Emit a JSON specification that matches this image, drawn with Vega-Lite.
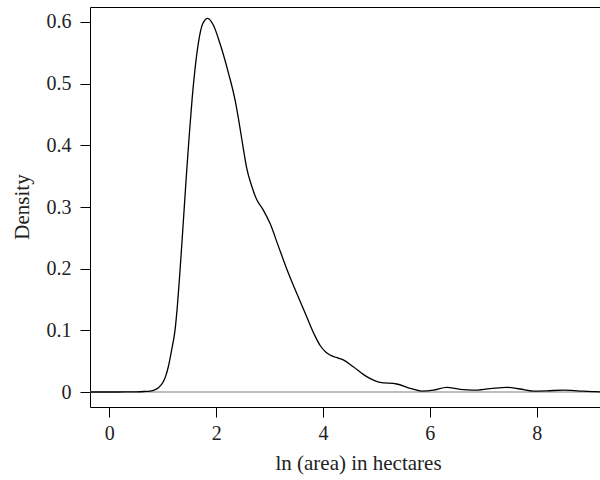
{
  "$schema": "https://vega.github.io/schema/vega-lite/v6.json",
  "width": 510,
  "height": 400,
  "autosize": "none",
  "padding": {"left": 90, "top": 7, "right": 0, "bottom": 73},
  "background": "white",
  "config": {
    "view": {"stroke": null},
    "style": {"guide-label": {"font": "Liberation Serif", "fontSize": 20, "fill": "#222"}, "guide-title": {"font": "Liberation Serif", "fontSize": 21, "fill": "#222"}},
    "axis": {
      "grid": false,
      "domainColor": "black",
      "domainWidth": 1,
      "tickColor": "black",
      "tickWidth": 1,
      "tickSize": 10,
      "labelFont": "Liberation Serif",
      "labelFontSize": 20,
      "labelColor": "#222",
      "titleFont": "Liberation Serif",
      "titleFontSize": 21,
      "titleFontWeight": "normal",
      "titleColor": "#222"
    }
  },
  "data": {
    "values": [
      {"x": -0.36, "d": 0},
      {"x": 0.0, "d": 0.0},
      {"x": 0.3, "d": 0.0001},
      {"x": 0.5, "d": 0.0003},
      {"x": 0.65, "d": 0.0008},
      {"x": 0.764, "d": 0.0015},
      {"x": 0.85, "d": 0.0035},
      {"x": 0.918, "d": 0.007},
      {"x": 1.011, "d": 0.0167},
      {"x": 1.06, "d": 0.027},
      {"x": 1.105, "d": 0.041},
      {"x": 1.167, "d": 0.068},
      {"x": 1.23, "d": 0.1},
      {"x": 1.273, "d": 0.138},
      {"x": 1.31, "d": 0.18},
      {"x": 1.35, "d": 0.23},
      {"x": 1.4, "d": 0.295},
      {"x": 1.45, "d": 0.36},
      {"x": 1.5, "d": 0.42},
      {"x": 1.55, "d": 0.475},
      {"x": 1.6, "d": 0.52},
      {"x": 1.666, "d": 0.565},
      {"x": 1.748, "d": 0.597},
      {"x": 1.842, "d": 0.606},
      {"x": 1.947, "d": 0.595},
      {"x": 2.072, "d": 0.565},
      {"x": 2.228, "d": 0.518},
      {"x": 2.353, "d": 0.474},
      {"x": 2.447, "d": 0.428},
      {"x": 2.508, "d": 0.395},
      {"x": 2.57, "d": 0.364},
      {"x": 2.665, "d": 0.334},
      {"x": 2.759, "d": 0.312},
      {"x": 2.883, "d": 0.295},
      {"x": 3.008, "d": 0.2735},
      {"x": 3.163, "d": 0.237},
      {"x": 3.32, "d": 0.2},
      {"x": 3.508, "d": 0.16},
      {"x": 3.695, "d": 0.122},
      {"x": 3.85, "d": 0.091},
      {"x": 3.95, "d": 0.075},
      {"x": 4.05, "d": 0.065},
      {"x": 4.131, "d": 0.06},
      {"x": 4.25, "d": 0.056},
      {"x": 4.38, "d": 0.052},
      {"x": 4.567, "d": 0.041},
      {"x": 4.818, "d": 0.025},
      {"x": 5.067, "d": 0.0157},
      {"x": 5.38, "d": 0.013},
      {"x": 5.63, "d": 0.006},
      {"x": 5.85, "d": 0.0016},
      {"x": 6.065, "d": 0.003},
      {"x": 6.315, "d": 0.0076},
      {"x": 6.565, "d": 0.0043},
      {"x": 6.813, "d": 0.003},
      {"x": 7.126, "d": 0.0054},
      {"x": 7.44, "d": 0.0076},
      {"x": 7.687, "d": 0.0049},
      {"x": 7.937, "d": 0.0016},
      {"x": 8.187, "d": 0.002},
      {"x": 8.5, "d": 0.003},
      {"x": 8.81, "d": 0.0016},
      {"x": 9.09, "d": 0.0005},
      {"x": 9.3, "d": 0.0001}
    ]
  },
  "layer": [
    {
      "mark": {"type": "rule", "color": "#bebebe", "strokeWidth": 1},
      "encoding": {
        "y": {"datum": 0, "type": "quantitative"}
      }
    },
    {
      "mark": {"type": "line", "color": "black", "strokeWidth": 1.3, "interpolate": "monotone", "clip": true},
      "encoding": {
        "x": {
          "field": "x",
          "type": "quantitative",
          "scale": {"domain": [-0.361, 9.185], "nice": false, "zero": false},
          "axis": {
            "values": [0, 2, 4, 6, 8],
            "format": "d",
            "title": "ln (area) in hectares",
            "labelFont": "Liberation Serif",
            "labelFontSize": 20,
            "labelBaseline": "alphabetic",
            "labelPadding": 22,
            "titleX": 268,
            "titleY": 62,
            "titleAlign": "center",
            "titleBaseline": "alphabetic"
          }
        },
        "y": {
          "field": "d",
          "type": "quantitative",
          "scale": {"domain": [-0.0243, 0.6243], "nice": false, "zero": false},
          "axis": {
            "values": [0, 0.1, 0.2, 0.3, 0.4, 0.5, 0.6],
            "format": "~g",
            "title": "Density",
            "labelFont": "Liberation Serif",
            "labelFontSize": 20,
            "labelPadding": 9,
            "titleAngle": -90,
            "titleX": -61.5,
            "titleY": 199.5,
            "titleAlign": "center",
            "titleBaseline": "alphabetic"
          }
        }
      }
    },
    {
      "mark": {"type": "line", "opacity": 0},
      "encoding": {
        "x": {
          "field": "x",
          "type": "quantitative",
          "axis": {"orient": "top", "labels": false, "ticks": false, "title": null, "domain": true}
        }
      }
    }
  ],
  "resolve": {"axis": {"x": "independent"}}
}
